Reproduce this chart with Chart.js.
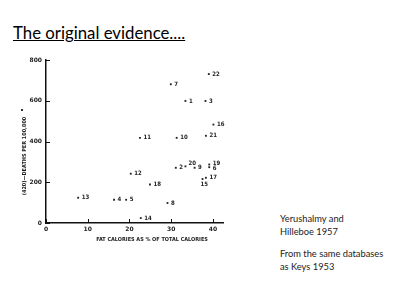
<!DOCTYPE html>
<html>
<head>
<meta charset="utf-8">
<script src="https://cdn.jsdelivr.net/npm/chart.js@4.4.1/dist/chart.umd.min.js"></script>
<style>
  body { margin: 0; background: #fff; width: 400px; height: 295px; overflow: hidden; position: relative; font-family: Lato, "Open Sans", sans-serif; }
  #titulo { position: absolute; left: 13px; top: 22px; font-size: 16.8px; text-decoration: underline; color: #000; }
  .nota { position: absolute; left: 280px; font-size: 9.3px; color: #222; line-height: 12.5px; }
  #mancha { position: absolute; left: 21px; top: 109px; width: 2px; height: 2px; background: #333; }
  canvas { position: absolute; left: 0; top: 0; }
</style>
</head>
<body>
<div id="titulo">The original evidence....</div>
<div class="nota" style="top:213px">Yerushalmy and<br>Hilleboe 1957</div>
<div class="nota" style="top:248px">From the same databases<br>as Keys 1953</div>
<div id="mancha"></div>
<canvas id="grafico" width="400" height="295"></canvas>
<script>
// numero de pais, % calorias de grasa, muertes por 100.000
const paises = ['1','2','3','4','5','6','7','8','9','10','11','12','13','14','15','16','17','18','19','20','21','22'];
const grasa = [33.4, 31.1, 38.2, 16.3, 19.2, 39.1, 29.9, 29.1, 35.6, 31.3, 22.5, 20.3, 7.7, 22.7, 37.5, 40.1, 38.3, 24.9, 39.1, 33.4, 38.3, 39.0];
const muertes = [599, 271, 599, 114, 114, 274, 681, 98, 271, 418, 418, 242, 124, 24, 216, 483, 222, 189, 287, 278, 428, 731];
const ticksX = [0, 10, 20, 30, 40];
const ticksY = [0, 200, 400, 600, 800];

const fuente = { family: 'DejaVu Sans', size: 6, weight: 'bold' };

// marcas de eje hacia dentro, etiquetas de puntos y titulos de ejes
const extras = {
  id: 'extras',
  afterDraw(chart) {
    const ctx = chart.ctx;
    const area = chart.chartArea;
    const x = chart.scales.x, y = chart.scales.y;
    ctx.save();
    ctx.strokeStyle = '#111';
    ctx.lineWidth = 1;
    ticksX.forEach(v => {
      const px = Math.round(x.getPixelForValue(v)) + 0.5;
      ctx.beginPath(); ctx.moveTo(px, area.bottom); ctx.lineTo(px, area.bottom - 4); ctx.stroke();
    });
    ticksY.forEach(v => {
      const py = Math.round(y.getPixelForValue(v)) + 0.5;
      ctx.beginPath(); ctx.moveTo(area.left, py); ctx.lineTo(area.left + 4, py); ctx.stroke();
    });

    ctx.fillStyle = '#222';
    ctx.font = 'bold 6px "DejaVu Sans Condensed", "DejaVu Sans"';
    ctx.textBaseline = 'middle';
    ctx.textAlign = 'left';
    const meta = chart.getDatasetMeta(0);
    meta.data.forEach((p, i) => {
      let dx = 3.5, dy = 0;
      if (paises[i] === '15') { dx = -2; dy = 5; }
      if (paises[i] === '20') { dx = 3; dy = -3; }
      if (paises[i] === '19') { dy = -1.5; }
      if (paises[i] === '6') { dy = 1.5; }
      ctx.fillText(paises[i], p.x + dx, p.y + dy);
    });

    ctx.font = 'bold 5.5px "DejaVu Sans Condensed", "DejaVu Sans"';
    ctx.textAlign = 'center';
    ctx.fillText('FAT CALORIES AS % OF TOTAL CALORIES', 152, 240);
    ctx.translate(25, 156);
    ctx.rotate(-Math.PI / 2);
    ctx.fillText('(420)—DEATHS PER 100,000', 0, 0);
    ctx.restore();
  }
};

new Chart(document.getElementById('grafico'), {
  type: 'scatter',
  data: {
    labels: paises,
    datasets: [{
      data: grasa.map((g, i) => ({ x: g, y: muertes[i] })),
      backgroundColor: '#222',
      borderColor: '#222',
      pointStyle: 'rect',
      pointRadius: 1.3,
      borderWidth: 0
    }]
  },
  options: {
    responsive: false,
    animation: false,
    layout: { padding: { left: 0, right: 177, top: 60, bottom: 58 } },
    plugins: { legend: { display: false }, tooltip: { enabled: false } },
    scales: {
      x: {
        min: 0,
        max: 42.4,
        afterFit: s => { s.height = 14; },
        afterBuildTicks: s => { s.ticks = ticksX.map(v => ({ value: v })); },
        grid: { drawOnChartArea: false, drawTicks: false },
        border: { display: true, color: '#111', width: 1.5 },
        ticks: { padding: 3, color: '#222', font: fuente, maxRotation: 0 }
      },
      y: {
        min: 0,
        max: 800,
        afterFit: s => { s.width = 46; },
        afterBuildTicks: s => { s.ticks = ticksY.map(v => ({ value: v })); },
        grid: { drawOnChartArea: false, drawTicks: false },
        border: { display: true, color: '#111', width: 1.5 },
        ticks: { padding: 4, color: '#222', font: fuente }
      }
    }
  },
  plugins: [extras]
});
</script>
</body>
</html>
